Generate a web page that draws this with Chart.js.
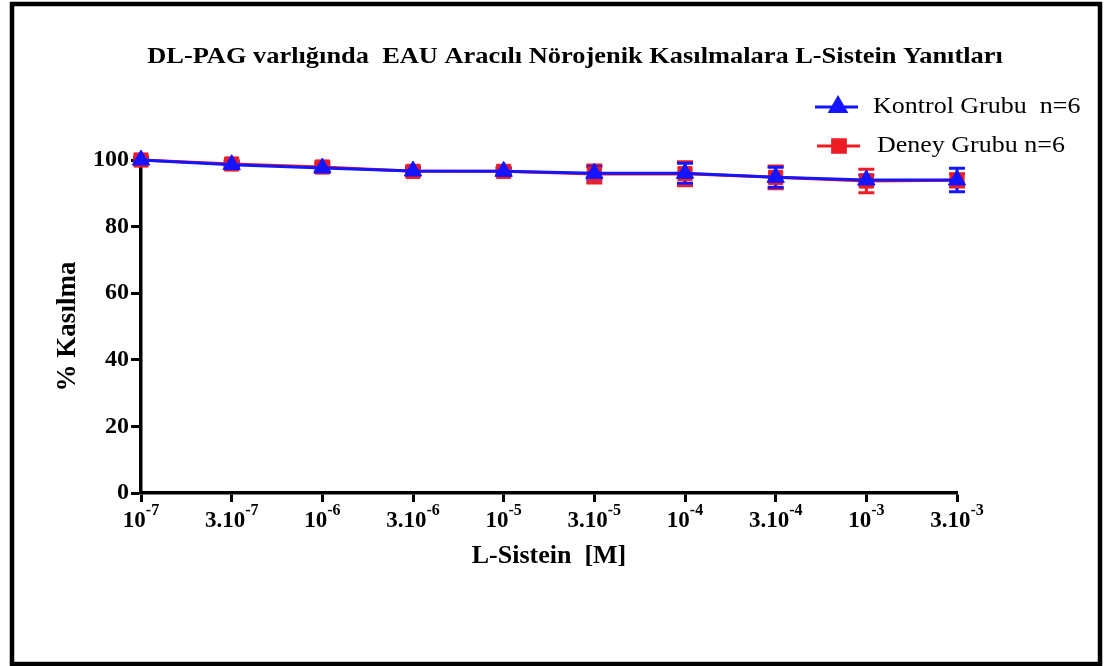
<!DOCTYPE html>
<html>
<head>
<meta charset="utf-8">
<script src="https://cdn.jsdelivr.net/npm/chart.js@4.4.1/dist/chart.umd.min.js"></script>
<style>
  html, body { margin: 0; padding: 0; background: #fff; }
  #wrap { position: relative; width: 1112px; height: 666px; }
  canvas { display: block; }
</style>
</head>
<body>
<div id="wrap"><canvas id="c" width="1112" height="666"></canvas></div>
<script>
// L-cysteine concentrations (M): mantissa part and power-of-ten exponent
const doseBase = ['10', '3.10', '10', '3.10', '10', '3.10', '10', '3.10', '10', '3.10'];
const doseExp  = ['-7', '-7', '-6', '-6', '-5', '-5', '-4', '-4', '-3', '-3'];
const categories = doseBase.map((b, i) => b + '^' + doseExp[i]);

// % contraction (mean) and SEM for each group
const kontrolMean = [100, 98.6, 97.6, 96.7, 96.6, 96.0, 96.0, 94.8, 94.0, 94.0];
const kontrolSem  = [0.6, 0.8, 1.0, 1.0, 1.0, 2.0, 3.0, 3.0, 1.5, 3.5];
const deneyMean   = [100, 98.8, 97.9, 96.6, 96.6, 95.8, 95.9, 94.8, 93.7, 93.9];
const deneySem    = [0.8, 1.0, 1.5, 1.2, 1.0, 2.7, 3.6, 3.4, 3.5, 2.0];

const yTicks = [0, 20, 40, 60, 80, 100];

const chartTitle = 'DL-PAG varlığında  EAU Aracılı Nörojenik Kasılmalara L-Sistein Yanıtları';
const xTitle = 'L-Sistein  [M]';
const yTitle = '% Kasılma';

const SERIF = "'Liberation Serif', 'Times New Roman', serif";
const BLUE = '#1414ff';
const RED = '#ee1c25';
const errorSets = [kontrolSem, deneySem];

// draw text slightly widened horizontally around an anchor point
function wideText(c, text, x, y, sx, align) {
  c.save();
  c.translate(x, y);
  c.scale(sx, 1);
  c.textAlign = align;
  c.fillText(text, 0, 0);
  c.restore();
}

// white page with a heavy black frame, plus the centred title
const framePlugin = {
  id: 'frame',
  beforeDraw(chart) {
    const c = chart.ctx;
    c.save();
    c.fillStyle = '#fff';
    c.fillRect(0, 0, chart.width, chart.height);
    c.strokeStyle = '#000';
    c.lineWidth = 4.5;
    c.strokeRect(12, 4, 1088, 660);
    c.fillStyle = '#000';
    c.font = 'bold 24px ' + SERIF;
    c.textBaseline = 'middle';
    wideText(c, chartTitle, 575, 57, 1.1, 'center');
    c.restore();
  }
};

// SEM bars with caps, drawn under the markers
const errorBarPlugin = {
  id: 'errorBars',
  beforeDatasetsDraw(chart) {
    const c = chart.ctx;
    const xs = chart.scales.x, ys = chart.scales.y;
    c.save();
    for (let d = chart.data.datasets.length - 1; d >= 0; d--) {
      const ds = chart.data.datasets[d];
      const err = errorSets[d];
      c.strokeStyle = ds.borderColor;
      c.lineWidth = 3;
      ds.data.forEach((v, i) => {
        const x = xs.getPixelForValue(i);
        const yTop = ys.getPixelForValue(v + err[i]);
        const yBot = ys.getPixelForValue(v - err[i]);
        c.beginPath();
        c.moveTo(x, yTop); c.lineTo(x, yBot);
        c.moveTo(x - 8, yTop); c.lineTo(x + 8, yTop);
        c.moveTo(x - 8, yBot); c.lineTo(x + 8, yBot);
        c.stroke();
      });
    }
    c.restore();
  }
};

// x tick labels with superscript exponents, and the line+marker legend
const labelPlugin = {
  id: 'labels',
  afterDraw(chart) {
    const c = chart.ctx;
    const xs = chart.scales.x;
    c.save();
    c.fillStyle = '#000';
    c.textBaseline = 'alphabetic';
    c.textAlign = 'left';
    const baseFont = 'bold 23px ' + SERIF;
    const expFont = 'bold 16px ' + SERIF;
    doseBase.forEach((b, i) => {
      const x = xs.getPixelForTick(i);
      c.font = baseFont;
      const wb = c.measureText(b).width;
      c.font = expFont;
      const we = c.measureText(doseExp[i]).width;
      const x0 = x - (wb + we) / 2;
      c.font = baseFont;
      c.fillText(b, x0, 527);
      c.font = expFont;
      c.fillText(doseExp[i], x0 + wb, 515);
    });

    // legend
    const rows = [
      { ds: chart.data.datasets[0], y: 107, x0: 815, x1: 858, xm: 838, tx: 873 },
      { ds: chart.data.datasets[1], y: 146, x0: 817, x1: 860, xm: 839, tx: 877 }
    ];
    rows.forEach(r => {
      c.strokeStyle = r.ds.borderColor;
      c.fillStyle = r.ds.backgroundColor;
      c.lineWidth = 3;
      c.beginPath();
      c.moveTo(r.x0, r.y); c.lineTo(r.x1, r.y);
      c.stroke();
      Chart.helpers.drawPoint(c, {
        pointStyle: r.ds.pointStyle, radius: 9, rotation: 0, borderWidth: 1
      }, r.xm, r.y);
      c.fillStyle = '#000';
      c.font = '23px ' + SERIF;
      c.textBaseline = 'middle';
      wideText(c, r.ds.label, r.tx, r.y, 1.13, 'left');
    });
    c.restore();
  }
};

new Chart(document.getElementById('c'), {
  type: 'line',
  data: {
    labels: categories,
    datasets: [
      {
        label: 'Kontrol Grubu  n=6',
        data: kontrolMean,
        borderColor: BLUE,
        backgroundColor: BLUE,
        pointBackgroundColor: BLUE,
        pointBorderColor: BLUE,
        pointStyle: 'triangle',
        pointRadius: 10,
        pointBorderWidth: 1,
        borderWidth: 3,
        tension: 0,
        clip: false
      },
      {
        label: 'Deney Grubu n=6',
        data: deneyMean,
        borderColor: RED,
        backgroundColor: RED,
        pointBackgroundColor: RED,
        pointBorderColor: RED,
        pointStyle: 'rect',
        pointRadius: 10,
        pointBorderWidth: 1,
        borderWidth: 3,
        tension: 0,
        clip: false
      }
    ]
  },
  options: {
    responsive: false,
    animation: false,
    devicePixelRatio: 1,
    layout: { padding: { left: 14, right: 155, top: 160, bottom: 0 } },
    plugins: {
      legend: { display: false },
      tooltip: { enabled: false },
      title: { display: false }
    },
    scales: {
      x: {
        type: 'category',
        offset: false,
        afterFit(scale) { scale.height = 173; },
        grid: {
          offset: false,
          drawOnChartArea: false,
          drawTicks: true,
          tickLength: 9,
          tickWidth: 3,
          tickColor: '#000'
        },
        border: { color: '#000', width: 3.5 },
        ticks: { display: false, autoSkip: false },
        title: {
          display: true,
          text: xTitle,
          color: '#000',
          font: { family: SERIF, size: 26, weight: 'bold' },
          padding: { top: 0, bottom: 94 }
        }
      },
      y: {
        min: 0,
        max: 100,
        afterFit(scale) { scale.width = 127; },
        afterBuildTicks(scale) { scale.ticks = yTicks.map(v => ({ value: v })); },
        grid: {
          drawOnChartArea: false,
          drawTicks: true,
          tickLength: 10,
          tickWidth: 3,
          tickColor: '#000'
        },
        border: { color: '#000', width: 3.5 },
        ticks: {
          color: '#000',
          padding: 2,
          font: { family: SERIF, size: 24, weight: 'bold' }
        },
        title: {
          display: true,
          text: yTitle,
          color: '#000',
          font: { family: SERIF, size: 27, weight: 'bold' },
          padding: { top: 38, bottom: 0 }
        }
      }
    }
  },
  plugins: [framePlugin, errorBarPlugin, labelPlugin]
});
</script>
</body>
</html>
